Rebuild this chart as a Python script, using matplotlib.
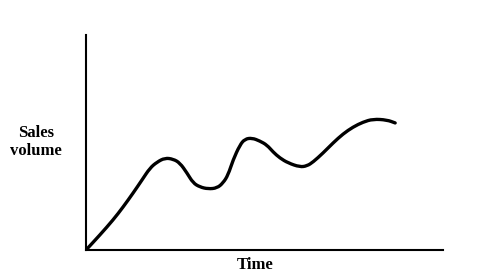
import matplotlib.pyplot as plt
import numpy as np
from matplotlib.path import Path
from matplotlib.patches import PathPatch

# Sales volume over time (arbitrary units)
time = [0, 3.9, 7.6, 10.4, 13.2, 15.7, 17.9, 19.9, 22.1, 24.4, 26.3, 28.3, 30.0,
        31.9, 34.2, 36.7, 38.4, 39.8, 41.2, 43.1, 44.5, 46.5, 48.7, 50.7, 52.4,
        54.3, 56.6, 59.9, 61.9, 63.6, 66.4, 69.2, 72.0, 74.8, 77.6, 80.4, 84.3, 86.6]
sales = [0, 7.0, 14.0, 20.0, 26.5, 32.6, 38.1, 40.9, 42.8, 42.3, 40.5, 35.8, 31.2,
         29.3, 28.4, 28.8, 31.2, 34.9, 41.9, 48.8, 51.6, 52.1, 50.7, 48.8, 45.6,
         42.8, 40.5, 38.6, 39.1, 40.9, 45.1, 49.8, 54.0, 57.2, 59.5, 60.9, 60.5, 59.1]

fig = plt.figure(figsize=(4.78, 2.8), dpi=100)
ax = fig.add_axes([86 / 478, 30 / 280, 357 / 478, 215 / 280])

# smooth the hand-drawn line: quadratic segments through the midpoints
pts = np.column_stack([time, sales])
mids = (pts[:-1] + pts[1:]) / 2
verts = [pts[0], mids[0]]
codes = [Path.MOVETO, Path.LINETO]
for i in range(1, len(pts) - 1):
    verts += [pts[i], mids[i]]
    codes += [Path.CURVE3, Path.CURVE3]
verts.append(pts[-1])
codes.append(Path.LINETO)
ax.add_patch(PathPatch(Path(verts, codes), facecolor='none', edgecolor='black',
                       linewidth=2.4, capstyle='round', joinstyle='round'))

ax.set_xlim(0, 100)
ax.set_ylim(0, 100)
ax.set_xticks([])
ax.set_yticks([])
ax.spines['top'].set_visible(False)
ax.spines['right'].set_visible(False)
for s in ['left', 'bottom']:
    ax.spines[s].set_linewidth(1.5)

font = dict(family='Liberation Serif', fontweight='bold', fontsize=12)
fig.text(36 / 478, 1 - 142 / 280, 'Sales\nvolume', ha='center', va='center',
         linespacing=1.1, **font)
fig.text(255 / 478, 1 - 265 / 280, 'Time', ha='center', va='center', **font)

plt.savefig('out.png', dpi=100)
